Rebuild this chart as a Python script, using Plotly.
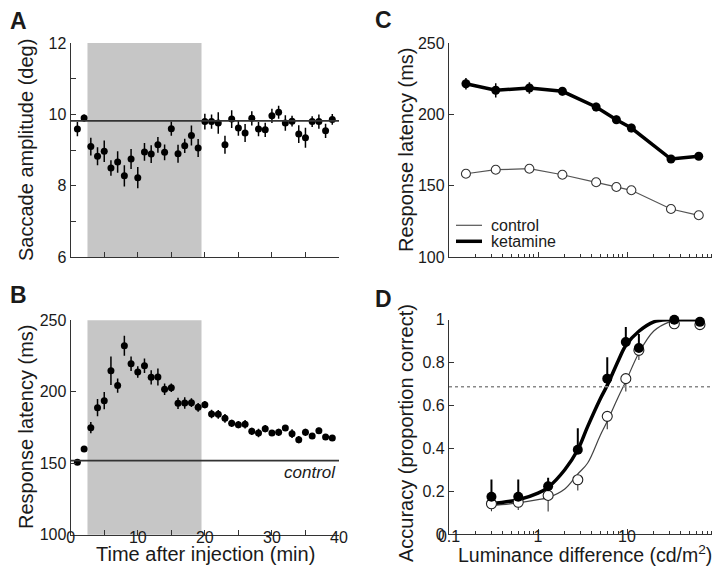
import plotly.graph_objects as go

# ---------------- DATA ----------------
minutes = list(range(1, 40))
amp_mean = [9.59, 9.90, 9.10, 8.83, 8.97, 8.50, 8.67, 8.28, 8.75, 8.23,
            8.95, 8.89, 9.15, 8.94, 9.60, 8.90, 9.12, 9.41, 9.06, 9.80,
            9.80, 9.76, 9.15, 9.87, 9.62, 9.48, 9.89, 9.59, 9.57, 9.96,
            10.06, 9.76, 9.81, 9.45, 9.35, 9.80, 9.80, 9.54, 9.86]
amp_err = [0.20, 0.10, 0.25, 0.25, 0.30, 0.22, 0.30, 0.30, 0.28, 0.30,
           0.25, 0.25, 0.22, 0.22, 0.20, 0.25, 0.20, 0.28, 0.25, 0.22,
           0.20, 0.30, 0.25, 0.25, 0.22, 0.25, 0.20, 0.20, 0.20, 0.20,
           0.18, 0.22, 0.15, 0.25, 0.28, 0.15, 0.20, 0.20, 0.15]
amp_baseline = 9.82

lat_mean = [150.7, 160.0, 174.9, 188.9, 193.8, 214.7, 204.3, 232.2, 219.6, 213.8,
            218.2, 210.1, 210.3, 201.7, 202.8, 191.9, 192.1, 192.4, 189.1, 191.0,
            184.5, 184.2, 181.4, 177.9, 177.0, 177.3, 172.3, 171.2, 174.2, 171.2,
            171.6, 174.6, 170.7, 166.5, 171.6, 169.0, 172.8, 168.4, 167.7]
lat_err = [1, 2, 4, 6, 6, 10, 5, 7, 5, 4,
           5, 5, 6, 4, 3, 4, 4, 3, 3, 2.5,
           3, 3, 3, 2.5, 2.5, 3, 2.5, 3, 2.5, 2,
           2.5, 2, 3, 2.5, 2.5, 2, 2, 2, 2]
lat_control = 151.8
injection_window = [2.5, 19.5]

lum_c = [0.155, 0.335, 0.80, 1.88, 4.5, 7.6, 11.2, 31.2, 64]
c_ketamine = [221.5, 216.9, 218.5, 216.2, 205.2, 196.3, 190.5, 168.8, 170.7]
c_ketamine_err = [4, 5, 4, 3, 3, 3, 3, 2, 2]
c_control = [158.5, 161.3, 162.0, 157.8, 152.5, 149.2, 146.9, 133.8, 129.4]

lum_d = [0.3, 0.6, 1.3, 2.8, 6.0, 9.7, 13.6, 34, 66]
acc_ketamine = [0.174, 0.174, 0.223, 0.393, 0.725, 0.896, 0.868, 1.0, 0.99]
acc_ketamine_err_up = [0.08, 0.08, 0.04, 0.10, 0.10, 0.07, 0.065, 0.0, 0.0]
acc_control = [0.141, 0.148, 0.180, 0.253, 0.549, 0.725, 0.857, 0.981, 0.977]
acc_control_err_down = [0.035, 0.036, 0.075, 0.05, 0.06, 0.06, 0.045, 0.0, 0.0]
fit_x = [0.3, 0.6, 1.0, 1.3, 2.0, 2.8, 3.6, 5.0, 6.0, 8.0, 9.7, 13.6, 20, 30, 40, 67]
fit_ketamine = [0.141, 0.160, 0.191, 0.218, 0.300, 0.393, 0.500, 0.630, 0.694,
                0.810, 0.880, 0.946, 0.990, 1.0, 1.0, 1.0]
fit_control = [0.132, 0.145, 0.160, 0.170, 0.210, 0.280, 0.330, 0.460, 0.526,
               0.640, 0.712, 0.845, 0.947, 0.990, 1.0, 1.0]
threshold = 0.687

y_ticks_a = [6, 8, 10, 12]
y_ticks_lat = [100, 150, 200, 250]
y_ticks_d = [0, 0.2, 0.4, 0.6, 0.8, 1]
y_ticktext_d = ["0", "0.2", "0.4", "0.6", "0.8", "1"]
x_ticks_time = [0, 10, 20, 30, 40]
log_major = [0.1, 1, 10, 100]
log_major_text = ["0.1", "1", "10", "100"]
log_minor = [m * d for d in (0.1, 1, 10) for m in range(2, 10)]

# ---------------- LAYOUT HELPERS ----------------
W, H = 720, 568
def px(x):
    return x / W
def py(y):
    return 1 - y / H

FONT = "Liberation Sans, Arial, sans-serif"
TXT = "#1a1a1a"
AX = "#333333"

fig = go.Figure()

# Panel A
fig.add_trace(go.Scatter(x=minutes, y=amp_mean, mode="markers",
                         marker=dict(color="black", size=7),
                         error_y=dict(type="data", array=amp_err, thickness=1.5, width=0, color="black"),
                         xaxis="x", yaxis="y", showlegend=False, cliponaxis=False))
# Panel B
fig.add_trace(go.Scatter(x=minutes, y=lat_mean, mode="markers",
                         marker=dict(color="black", size=7),
                         error_y=dict(type="data", array=lat_err, thickness=1.5, width=0, color="black"),
                         xaxis="x2", yaxis="y2", showlegend=False, cliponaxis=False))
# Panel C
fig.add_trace(go.Scatter(x=lum_c, y=c_control, mode="lines+markers",
                         line=dict(color="#555555", width=1.2),
                         marker=dict(color="white", size=9, line=dict(color="#333333", width=1.1)),
                         xaxis="x3", yaxis="y3", showlegend=False, cliponaxis=False))
fig.add_trace(go.Scatter(x=lum_c, y=c_ketamine, mode="lines+markers",
                         line=dict(color="black", width=3.5),
                         marker=dict(color="black", size=9),
                         error_y=dict(type="data", array=c_ketamine_err, thickness=1.5, width=0, color="black"),
                         xaxis="x3", yaxis="y3", showlegend=False, cliponaxis=False))
# Panel D
fig.add_trace(go.Scatter(x=fit_x, y=fit_control, mode="lines", line=dict(color="#444444", width=1.2, shape="spline", smoothing=1),
                         xaxis="x4", yaxis="y4", showlegend=False, cliponaxis=False))
fig.add_trace(go.Scatter(x=fit_x, y=fit_ketamine, mode="lines", line=dict(color="black", width=3.5, shape="spline", smoothing=1),
                         xaxis="x4", yaxis="y4", showlegend=False, cliponaxis=False))
fig.add_trace(go.Scatter(x=lum_d, y=acc_control, mode="markers",
                         marker=dict(color="white", size=10, line=dict(color="#222222", width=1.1)),
                         error_y=dict(type="data", symmetric=False, array=[0] * len(lum_d),
                                      arrayminus=acc_control_err_down, thickness=1.1, width=0, color="#333333"),
                         xaxis="x4", yaxis="y4", showlegend=False, cliponaxis=False))
fig.add_trace(go.Scatter(x=lum_d, y=acc_ketamine, mode="markers",
                         marker=dict(color="black", size=10),
                         error_y=dict(type="data", symmetric=False, array=acc_ketamine_err_up,
                                      arrayminus=[0] * len(lum_d), thickness=2, width=0, color="black"),
                         xaxis="x4", yaxis="y4", showlegend=False, cliponaxis=False))

# ---------------- AXES ----------------
left_dom = [px(62.7), px(331)]
right_dom = [px(441), px(708)]
top_dom = [py(249.3), py(35)]
bot_dom_b = [py(526.7), py(312.3)]
bot_dom_d = [py(526), py(311.7)]

axis_common = dict(showline=True, linecolor=AX, linewidth=1.3, ticks="inside", ticklen=5,
                   tickcolor=AX, tickwidth=1.3, showgrid=False, zeroline=False,
                   tickfont=dict(family=FONT, size=16, color=TXT))
XSTAND = -12

fig.update_layout(
    xaxis=dict(domain=left_dom, range=[0, 40], anchor="y", tickvals=[0, 5, 10, 15, 20, 25, 30, 35, 40],
               showticklabels=False, **axis_common),
    yaxis=dict(domain=top_dom, range=[6, 12], anchor="x", tickvals=y_ticks_a,
               minor=dict(tickvals=[7, 9, 11], ticks="inside", ticklen=5, tickcolor=AX, tickwidth=1.3),
               **axis_common),
    xaxis2=dict(domain=left_dom, range=[0, 40], anchor="y2", tickvals=x_ticks_time, ticklabelstandoff=XSTAND,
                minor=dict(tickvals=[5, 15, 25, 35], ticks="inside", ticklen=5, tickcolor=AX, tickwidth=1.3),
                **axis_common),
    yaxis2=dict(domain=bot_dom_b, range=[100, 250], anchor="x2", tickvals=y_ticks_lat, **axis_common),
    xaxis3=dict(domain=right_dom, type="log", range=[-1, 2], anchor="y3", tickvals=log_major,
                showticklabels=False,
                minor=dict(tickvals=log_minor, ticks="inside", ticklen=3, tickcolor=AX, tickwidth=1.1),
                **axis_common),
    yaxis3=dict(domain=top_dom, range=[100, 250], anchor="x3", tickvals=y_ticks_lat, **axis_common),
    xaxis4=dict(domain=right_dom, type="log", range=[-1, 2], anchor="y4", tickvals=log_major,
                ticktext=log_major_text, ticklabelstandoff=XSTAND,
                minor=dict(tickvals=log_minor, ticks="inside", ticklen=3, tickcolor=AX, tickwidth=1.1),
                **axis_common),
    yaxis4=dict(domain=bot_dom_d, range=[0, 1], anchor="x4", tickvals=y_ticks_d, ticktext=y_ticktext_d,
                **axis_common),
)

# ---------------- SHAPES ----------------
shapes = []
for xr, yr in (("x", "y domain"), ("x2", "y2 domain")):
    shapes.append(dict(type="rect", xref=xr, yref=yr, x0=injection_window[0], x1=injection_window[1],
                       y0=0, y1=1, fillcolor="#c6c6c6", line=dict(width=0), layer="below"))
shapes.append(dict(type="line", xref="x domain", yref="y", x0=0, x1=1, y0=amp_baseline, y1=amp_baseline,
                   line=dict(color="#333333", width=1.6)))
shapes.append(dict(type="line", xref="x2 domain", yref="y2", x0=0, x1=1, y0=lat_control, y1=lat_control,
                   line=dict(color="#333333", width=1.6)))
shapes.append(dict(type="line", xref="x4 domain", yref="y4", x0=0, x1=1, y0=threshold, y1=threshold,
                   line=dict(color="#888888", width=1.4, dash="dot")))
# legend of panel C
shapes.append(dict(type="line", xref="paper", yref="paper", x0=px(448), x1=px(474), y0=py(217.3), y1=py(217.3),
                   line=dict(color="#555555", width=1.2)))
shapes.append(dict(type="line", xref="paper", yref="paper", x0=px(448), x1=px(474), y0=py(233.3), y1=py(233.3),
                   line=dict(color="black", width=3.5)))
fig.update_layout(shapes=shapes)

# ---------------- TEXT ----------------
ann = []
def text(x, y, s, size, angle=0, xanchor="center", yanchor="middle", bold=False):
    ann.append(dict(x=px(x), y=py(y), xref="paper", yref="paper", text=("<b>%s</b>" % s) if bold else s,
                    showarrow=False, textangle=angle, xanchor=xanchor, yanchor=yanchor,
                    font=dict(family=FONT, size=size, color=TXT)))

text(10, 13, "A", 23, bold=True)
text(10, 287, "B", 23, bold=True)
text(375, 12, "C", 23, bold=True)
text(375, 291, "D", 23, bold=True)
text(18, 142, "Saccade amplitude (deg)", 20, angle=-90)
text(18, 419, "Response latency (ms)", 20, angle=-90)
text(197, 546, "Time after injection (min)", 20)
text(398, 142, "Response latency (ms)", 20, angle=-90)
text(398, 425, "Accuracy (proportion correct)", 20, angle=-90)
text(577, 546, "Luminance difference (cd/m<sup>2</sup>)", 19.5)
text(330, 464.3, "<i>control</i>", 17, xanchor="right")
text(481, 217.3, "control", 16, xanchor="left")
text(481, 233.3, "ketamine", 16, xanchor="left")
fig.update_layout(annotations=ann)

fig.update_layout(width=W, height=H, autosize=False, margin=dict(l=0, r=0, t=0, b=0),
                  paper_bgcolor="white", plot_bgcolor="white", template="none",
                  font=dict(family=FONT, color=TXT))

fig.write_html("out.html")
